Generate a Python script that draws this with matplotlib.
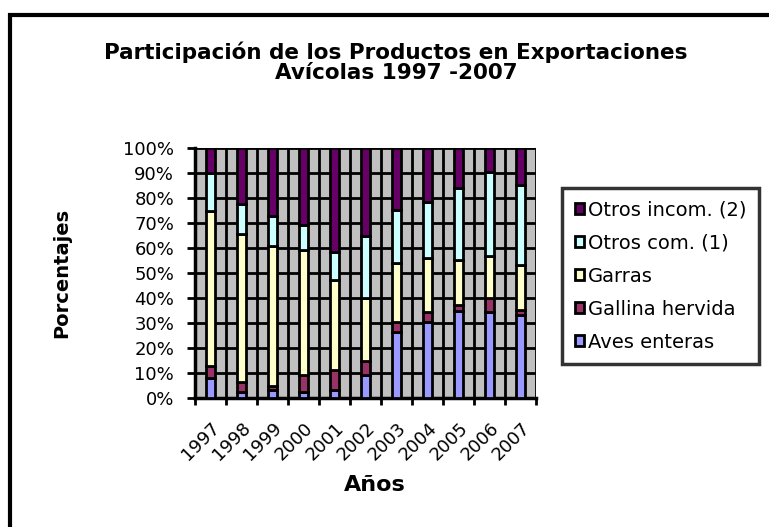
import matplotlib.pyplot as plt
import numpy as np
from matplotlib.patches import Rectangle

years = ['1997', '1998', '1999', '2000', '2001', '2002', '2003', '2004', '2005', '2006', '2007']
aves_enteras = [8, 2.5, 3.3, 2.5, 3.5, 9.5, 26.5, 30.5, 35, 34.5, 33.5]
gallina_hervida = [5, 4.2, 1.7, 7, 8, 5.5, 4, 4, 2.5, 5.5, 2]
garras = [62, 59, 56, 50, 36, 25, 23.5, 21.5, 18, 17, 18]
otros_com = [15, 12, 12, 10, 11, 25, 21.5, 22.5, 28.5, 33.5, 32]
otros_incom = [10, 22.3, 27, 30.5, 41.5, 35, 24.5, 21.5, 16, 9.5, 14.5]

series = [
    ('Aves enteras', aves_enteras, '#9999FF'),
    ('Gallina hervida', gallina_hervida, '#993366'),
    ('Garras', garras, '#FFFFCC'),
    ('Otros com. (1)', otros_com, '#CCFFFF'),
    ('Otros incom. (2)', otros_incom, '#660066'),
]

# wide sans to mimic the stretched Arial of the original
plt.rcParams['font.family'] = ['DejaVu Sans']

fig = plt.figure(figsize=(7.69, 5.27), dpi=100)
# outer chart border (runs off the right and bottom of the picture)
fig.patches.append(Rectangle((10 / 769, -0.05), 1.1, 1 - 15 / 527 + 0.05,
                             transform=fig.transFigure, fill=False,
                             edgecolor='black', linewidth=3))

ax = fig.add_axes([0.2536, 0.2442, 0.4434, 0.4744])
ax.set_facecolor('#C0C0C0')

x = np.arange(len(years))
bottom = np.zeros(len(years))
handles = []
for name, vals, col in series:
    vals = np.array(vals)
    h = ax.bar(x, vals, 0.32, bottom=bottom, color=col, edgecolor='black',
               linewidth=2, label=name, zorder=3)
    handles.append(h)
    bottom += vals

ax.set_xlim(-0.5, len(years) - 0.5)
ax.set_ylim(0, 100)
ax.set_yticks(np.arange(0, 101, 10))
ax.set_yticklabels([f'{v}%' for v in range(0, 101, 10)], fontsize=13)

ax.set_xticks(np.arange(-0.5, len(years), 1))
ax.set_xticklabels([])
ax.set_xticks(x, minor=True)
ax.set_xticklabels(years, minor=True, rotation=45, ha='right', va='top',
                   fontsize=13, rotation_mode='anchor')
ax.tick_params(axis='x', which='minor', length=0, pad=15)
ax.tick_params(axis='x', which='major', length=5, width=2, direction='out')
ax.tick_params(axis='y', length=6, width=2, direction='out', pad=9)

ax.grid(True, which='major', color='black', linewidth=2, zorder=1)
ax.set_axisbelow(True)
for s in ['top', 'right']:
    ax.spines[s].set_visible(False)
for s in ['left', 'bottom']:
    ax.spines[s].set_linewidth(2.5)

ax.set_ylabel('Porcentajes', fontsize=14, fontweight='bold')
ax.yaxis.set_label_coords(-0.362, 0.5)
ax.set_xlabel('Años', fontsize=16, fontweight='bold')
ax.xaxis.set_label_coords(0.528, -0.308)

fig.text(0.515, 0.882, 'Participación de los Productos en Exportaciones\nAvícolas 1997 -2007',
         ha='center', va='center', fontsize=15.5, fontweight='bold', linespacing=1.0)

leg = fig.legend(handles[::-1], [s[0] for s in series][::-1],
                 loc='upper left', bbox_to_anchor=(562 / 769, 1 - 188 / 527),
                 fontsize=14, frameon=True, fancybox=False, edgecolor='black',
                 handlelength=0.5, handleheight=0.5, handletextpad=0.2,
                 labelspacing=0.72, borderpad=0.65, borderaxespad=0)
leg.get_frame().set_linewidth(2.5)

fig.savefig('out.png', dpi=100)
